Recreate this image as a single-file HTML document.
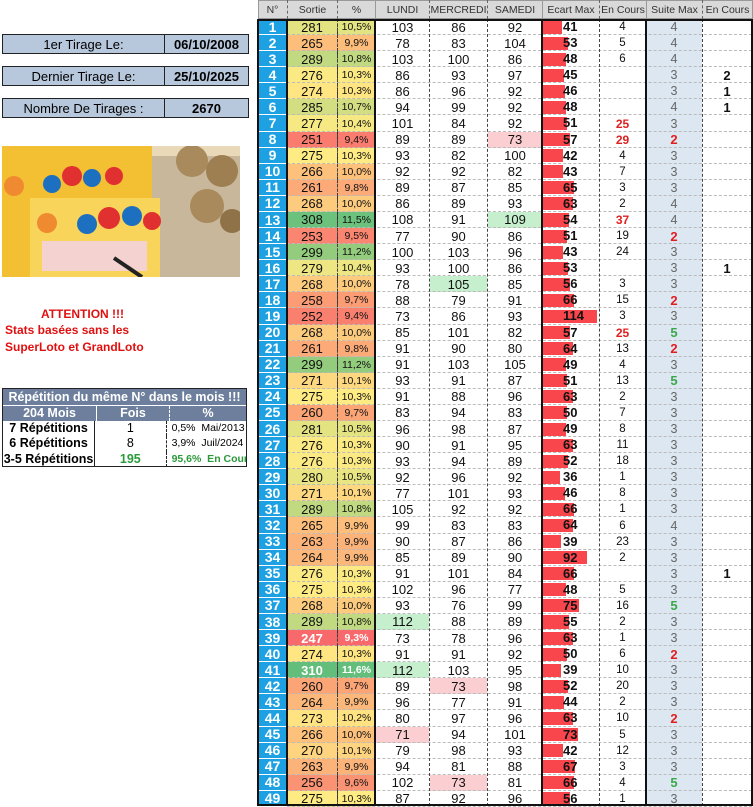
<!DOCTYPE html>
<html><head><meta charset="utf-8">
<style>
body{margin:0;width:753px;height:806px;background:#fff;position:relative;overflow:hidden;font-family:"Liberation Sans",sans-serif;}
.a{position:absolute;box-sizing:border-box;}
.c{position:absolute;box-sizing:border-box;display:flex;align-items:center;justify-content:center;font-size:12px;color:#111;white-space:nowrap;}
.box{position:absolute;border:1.5px solid #222;background:#b8c8dc;height:18px;display:flex;font-size:13px;}
.box div{display:flex;align-items:center;justify-content:center;}
</style></head><body>
<div class="box" style="left:2px;top:34px;width:245px"><div style="width:161px;border-right:1.5px solid #222">1er Tirage Le:</div><div style="flex:1;font-weight:bold">06/10/2008</div></div>
<div class="box" style="left:2px;top:66px;width:245px"><div style="width:161px;border-right:1.5px solid #222">Dernier Tirage Le:</div><div style="flex:1;font-weight:bold">25/10/2025</div></div>
<div class="box" style="left:2px;top:98px;width:245px"><div style="width:161px;border-right:1.5px solid #222">Nombre De Tirages :</div><div style="flex:1;font-weight:bold">2670</div></div>

<svg class="a" style="left:2px;top:146px" width="238" height="131">
<rect width="238" height="131" fill="#e9d9b8"/>
<rect x="140" y="10" width="98" height="121" fill="#c8b79a"/>
<rect x="0" y="0" width="150" height="131" fill="#f4c033"/>
<rect x="28" y="52" width="130" height="79" fill="#f8d55a"/>
<rect x="40" y="95" width="105" height="30" fill="#f3d2d0"/>
<circle cx="50" cy="38" r="9" fill="#1d6fc0"/><circle cx="70" cy="30" r="10" fill="#e03030"/><circle cx="90" cy="32" r="9" fill="#1d6fc0"/><circle cx="112" cy="30" r="9" fill="#e03030"/>
<circle cx="85" cy="78" r="10" fill="#1d6fc0"/><circle cx="107" cy="72" r="11" fill="#e03030"/><circle cx="130" cy="70" r="10" fill="#1d6fc0"/><circle cx="150" cy="75" r="9" fill="#e03030"/>
<circle cx="190" cy="15" r="16" fill="#a88a5c"/><circle cx="220" cy="25" r="16" fill="#9d7f52"/><circle cx="205" cy="60" r="17" fill="#a88a5c"/><circle cx="230" cy="75" r="12" fill="#8f7248"/>
<circle cx="12" cy="40" r="10" fill="#f08a30"/><circle cx="45" cy="77" r="10" fill="#f08a30"/>
<line x1="112" y1="112" x2="140" y2="131" stroke="#222" stroke-width="4"/>
</svg>

<div class="a" style="left:0;top:307px;width:165px;text-align:center;color:#e01010;font-weight:bold;font-size:12px">ATTENTION !!!</div>
<div class="a" style="left:5px;top:322px;color:#e01010;font-weight:bold;font-size:12px;line-height:17px">Stats basées sans les<br>SuperLoto et GrandLoto</div>

<div class="a" style="left:2px;top:388px;width:245px;height:79px;border:1.5px solid #222;font-weight:bold;font-size:12.5px">
 <div style="height:16px;background:#6d7f9c;color:#fff;text-align:center;line-height:16px;border-bottom:1px solid #fff;white-space:nowrap">Répétition du même N° dans le mois !!!</div>
 <div style="height:15px;background:#6d7f9c;color:#fff;display:flex;line-height:15px;text-align:center"><div style="width:93px;border-right:1px solid #fff">204 Mois</div><div style="width:72px;border-right:1px dashed #fff">Fois</div><div style="flex:1">%</div></div>
 <div id="rep"></div>
</div>

<div id="t"></div>
<script>
var rep=[["7 Répétitions","1","0,5%","Mai/2013",0],["6 Répétitions","8","3,9%","Juil/2024",0],["3-5 Répétitions","195","95,6%","En Cours",1]];
var h="";rep.forEach(function(r){
h+='<div style="height:15.3px;display:flex;line-height:15px;font-size:12.5px;white-space:nowrap"><div style="width:93px;border-right:1.5px solid #222;text-align:center">'+r[0]+'</div><div style="width:72px;text-align:center;font-weight:normal;'+(r[4]?'color:#2a9a3a;font-weight:bold':'')+'">'+r[1]+'</div><div style="width:76px;border-left:1px dashed #222;font-weight:normal;font-size:10.5px;padding-left:5px;overflow:hidden;'+(r[4]?'color:#2a9a3a;font-weight:bold':'')+'">'+r[2]+'&nbsp; '+r[3]+'</div></div>';});
document.getElementById("rep").innerHTML=h;

var D=`281 10,5% 103 86 92 41 4 4 -
265 9,9% 78 83 104 53 5 4 -
289 10,8% 103 100 86 48 6 4 -
276 10,3% 86 93 97 45 - 3 2
274 10,3% 86 96 92 46 - 3 1
285 10,7% 94 99 92 48 - 4 1
277 10,4% 101 84 92 51 25r 3 -
251 9,4% 89 89 73p 57 29r 2r -
275 10,3% 93 82 100 42 4 3 -
266 10,0% 92 92 82 43 7 3 -
261 9,8% 89 87 85 65 3 3 -
268 10,0% 86 89 93 63 2 4 -
308 11,5% 108 91 109g 54 37r 4 -
253 9,5% 77 90 86 51 19 2r -
299 11,2% 100 103 96 43 24 3 -
279 10,4% 93 100 86 53 - 3 1
268 10,0% 78 105g 85 56 3 3 -
258 9,7% 88 79 91 66 15 2r -
252 9,4% 73 86 93 114 3 3 -
268 10,0% 85 101 82 57 25r 5g -
261 9,8% 91 90 80 64 13 2r -
299 11,2% 91 103 105 49 4 3 -
271 10,1% 93 91 87 51 13 5g -
275 10,3% 91 88 96 63 2 3 -
260 9,7% 83 94 83 50 7 3 -
281 10,5% 96 98 87 49 8 3 -
276 10,3% 90 91 95 63 11 3 -
276 10,3% 93 94 89 52 18 3 -
280 10,5% 92 96 92 36 1 3 -
271 10,1% 77 101 93 46 8 3 -
289 10,8% 105 92 92 66 1 3 -
265 9,9% 99 83 83 64 6 4 -
263 9,9% 90 87 86 39 23 3 -
264 9,9% 85 89 90 92 2 3 -
276 10,3% 91 101 84 66 - 3 1
275 10,3% 102 96 77 48 5 3 -
268 10,0% 93 76 99 75 16 5g -
289 10,8% 112g 88 89 55 2 3 -
247 9,3% 73 78 96 63 1 3 -
274 10,3% 91 91 92 50 6 2r -
310 11,6% 112g 103 95 39 10 3 -
260 9,7% 89 73p 98 52 20 3 -
264 9,9% 96 77 91 44 2 3 -
273 10,2% 80 97 96 63 10 2r -
266 10,0% 71p 94 101 73 5 3 -
270 10,1% 79 98 93 42 12 3 -
263 9,9% 94 81 88 67 3 3 -
256 9,6% 102 73p 81 66 4 5g -
275 10,3% 87 92 96 56 1 3 -`.split("\n").map(function(l){return l.split(" ")});
var X=[258,287,337,375,429,487,542,599,646,702,752];
var heads=["N°","Sortie","%","LUNDI","MERCREDI","SAMEDI","Ecart Max","En Cours","Suite Max","En Cours"];
function lerp(a,b,t){return a.map(function(v,i){return Math.round(v+(b[i]-v)*t)})}
function scale(v){var R=[248,105,107],Y=[255,235,132],G=[99,190,123],c;
 if(v<275)c=lerp(R,Y,(v-247)/(275-247));else c=lerp(Y,G,(v-275)/(310-275));return "rgb("+c+")";}
var o="";
o+='<div class="a" style="left:258px;top:0;width:495px;height:19px;background:#d9d9d9;border:1px solid #999"></div>';
heads.forEach(function(t,i){o+='<div class="c" style="left:'+X[i]+'px;top:0;width:'+(X[i+1]-X[i])+'px;height:19px;font-size:10.5px;color:#333;'+(i>0?'border-left:1px '+(i==3||i==6||i==8?'solid #999':'dashed #666'):'')+'">'+t+'</div>';});
var T=19,H=16.08;
o+='<div class="a" style="left:646px;top:'+T+'px;width:56px;height:'+(806-T)+'px;background:#dde7f1"></div>';
D.forEach(function(r,k){var y=T+k*H;
 var s=+r[0],bg=scale(s),wt=(s==247||s==310)?'color:#fff;font-weight:bold;':'';
 o+='<div class="c" style="left:258px;top:'+y+'px;width:29px;height:'+H+'px;background:#1da1e2;color:#fff;font-weight:bold;font-size:14px;border-bottom:1px solid #fff">'+(k+1)+'</div>';
 o+='<div class="c" style="left:287px;top:'+y+'px;width:50px;height:'+H+'px;background:'+bg+';font-size:13px;'+wt+'">'+r[0]+'</div>';
 o+='<div class="c" style="left:337px;top:'+y+'px;width:38px;height:'+H+'px;background:'+bg+';font-size:10.5px;border-left:1px dashed #333;'+wt+'">'+r[1]+'</div>';
 for(var j=2;j<5;j++){var v=r[j],b='';if(/p$/.test(v))b='background:#fbcfd2;';if(/g$/.test(v))b='background:#c6efce;';
  o+='<div class="c" style="left:'+(X[j+1]+1)+'px;top:'+y+'px;width:'+(X[j+2]-X[j+1]-1)+'px;height:'+H+'px;font-size:13px;'+b+'">'+v.replace(/[pg]$/,'')+'</div>';}
 var e=+r[5];
 o+='<div class="a" style="left:543px;top:'+(y+1.5)+'px;width:'+(e/114*54)+'px;height:'+(H-3)+'px;background:#f8464c"></div>';
 o+='<div class="a" style="left:563px;top:'+y+'px;height:'+H+'px;line-height:'+H+'px;font-weight:bold;font-size:13px;color:#111">'+e+'</div>';
 var ec=r[6];if(ec!='-'){var red=/r$/.test(ec);o+='<div class="c" style="left:599px;top:'+y+'px;width:47px;height:'+H+'px;font-size:'+(red?'12px;color:#e02020;font-weight:bold':'11.5px')+'">'+ec.replace('r','')+'</div>';}
 var sm=r[7],col='#666;font-size:12.5px',m=sm.match(/[rg]$/);if(m)col=(m[0]=='r'?'#e02020':'#3aa84a')+';font-weight:bold;font-size:13px';
 o+='<div class="c" style="left:646px;top:'+y+'px;width:56px;height:'+H+'px;color:'+col+'">'+sm.replace(/[rg]$/,'')+'</div>';
 if(r[8]!='-')o+='<div class="c" style="left:702px;top:'+y+'px;width:50px;height:'+H+'px;font-weight:bold;font-size:13px">'+r[8]+'</div>';
 o+='<div class="a" style="left:287px;top:'+(y+H-1)+'px;width:465px;border-top:1px dashed #bbb"></div>';
});
[337,429,487,599,702].forEach(function(x){o+='<div class="a" style="left:'+x+'px;top:19px;height:787px;border-left:1px dashed #444"></div>'});
[287,375,542,646].forEach(function(x){o+='<div class="a" style="left:'+(x-1)+'px;top:19px;height:787px;border-left:2px solid #111"></div>'});
o+='<div class="a" style="left:257px;top:19px;width:496px;height:787px;border:2px solid #111"></div>';
document.getElementById("t").innerHTML=o;
</script>
</body></html>
